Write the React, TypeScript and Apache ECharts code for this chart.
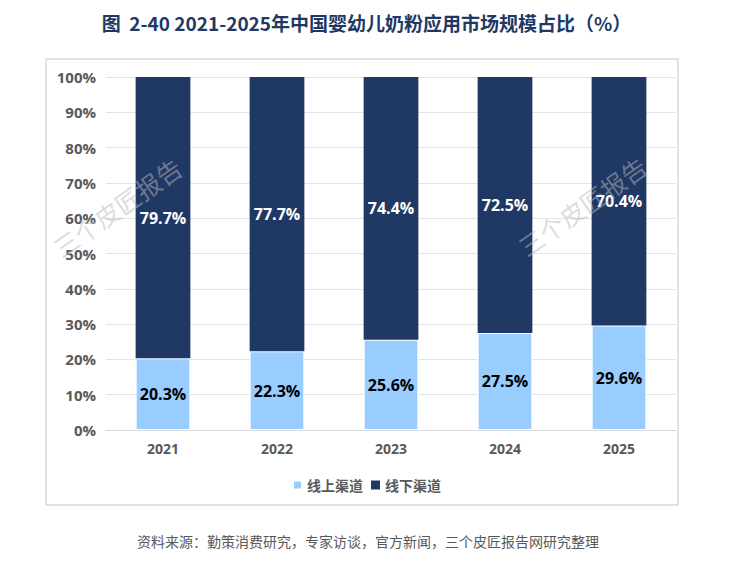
import React, { useEffect, useRef } from "react";
import * as echarts from "echarts";

const categories = ["2021", "2022", "2023", "2024", "2025"];
const onlineValues = [20.3, 22.3, 25.6, 27.5, 29.6];
const offlineValues = [79.7, 77.7, 74.4, 72.5, 70.4];
const seriesNames = ["线上渠道", "线下渠道"];
const titleText = "图  2-40 2021-2025年中国婴幼儿奶粉应用市场规模占比（%）";
const sourceText = "资料来源：勤策消费研究，专家访谈，官方新闻，三个皮匠报告网研究整理";
const watermarkText = "三个皮匠报告";

const NUM_FONT = "'Open Sans', 'Noto Sans CJK SC', sans-serif";
const CJK_FONT = "'Noto Sans CJK SC', 'Open Sans', sans-serif";

export default function App() {
  const ref = useRef<HTMLDivElement>(null);

  useEffect(() => {
    if (!ref.current) return;
    const chart = echarts.init(ref.current, undefined, { renderer: "svg" });
    const wm = (x: number, y: number) => ({
      type: "text",
      x,
      y,
      rotation: (35 * Math.PI) / 180,
      z: 100,
      style: {
        text: watermarkText,
        fontSize: 25,
        fontFamily: CJK_FONT,
        fill: "rgba(185,185,185,0.5)",
        align: "center",
        verticalAlign: "middle",
      },
    });
    chart.setOption({
      animation: false,
      backgroundColor: "#ffffff",
      title: {
        text: titleText,
        left: "center",
        top: 8,
        textStyle: {
          fontSize: 19,
          fontWeight: "bold",
          color: "#1F3864",
          fontFamily: CJK_FONT,
        },
      },
      legend: {
        data: seriesNames,
        left: "center",
        top: 473,
        itemWidth: 9,
        itemHeight: 9,
        itemGap: 8,
        icon: "rect",
        textStyle: {
          fontSize: 14,
          fontWeight: "bold",
          color: "#595959",
          fontFamily: CJK_FONT,
        },
      },
      grid: { left: 106, right: 57, top: 77, bottom: 133, containLabel: false },
      xAxis: {
        type: "category",
        data: categories,
        axisTick: { show: false },
        axisLine: { lineStyle: { color: "#D9D9D9" } },
        axisLabel: {
          margin: 11,
          fontSize: 14,
          fontWeight: "bold",
          color: "#595959",
          fontFamily: NUM_FONT,
        },
      },
      yAxis: {
        type: "value",
        min: 0,
        max: 100,
        interval: 10,
        axisLine: { show: false },
        axisTick: { show: false },
        splitLine: { lineStyle: { color: "#E3E3E3" } },
        axisLabel: {
          formatter: "{value}%",
          margin: 10,
          fontSize: 15,
          fontWeight: "bold",
          color: "#595959",
          fontFamily: NUM_FONT,
        },
      },
      series: [
        {
          name: seriesNames[0],
          type: "bar",
          stack: "total",
          data: onlineValues,
          barCategoryGap: "52%",
          itemStyle: { color: "#99CCFF", borderColor: "#ffffff", borderWidth: 1 },
          label: {
            show: true,
            position: "inside",
            formatter: (p: any) => p.value.toFixed(1) + "%",
            fontSize: 16,
            fontWeight: "bold",
            color: "#000000",
            fontFamily: NUM_FONT,
          },
        },
        {
          name: seriesNames[1],
          type: "bar",
          stack: "total",
          data: offlineValues,
          barCategoryGap: "52%",
          itemStyle: { color: "#1F3864" },
          label: {
            show: true,
            position: "inside",
            formatter: (p: any) => p.value.toFixed(1) + "%",
            fontSize: 16,
            fontWeight: "bold",
            color: "#ffffff",
            fontFamily: NUM_FONT,
          },
        },
      ],
      graphic: [
        {
          type: "rect",
          shape: { x: 46, y: 59, width: 632, height: 446 },
          z: -1,
          style: { fill: "none", stroke: "#D9D9D9", lineWidth: 1.5 },
        },
        {
          type: "text",
          x: 368,
          y: 541,
          style: {
            text: sourceText,
            fontSize: 14,
            fontFamily: CJK_FONT,
            fill: "#595959",
            align: "center",
            verticalAlign: "middle",
          },
        },
        wm(117, 207),
        wm(582, 206),
      ],
    });
    return () => chart.dispose();
  }, []);

  return (
    <div
      ref={ref}
      style={{ position: "absolute", left: 0, top: 0, width: 733, height: 563 }}
    />
  );
}
